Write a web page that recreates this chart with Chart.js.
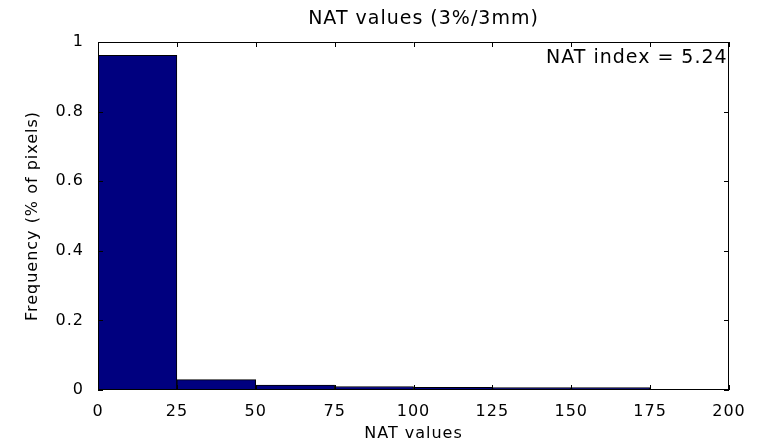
<!DOCTYPE html>
<html>
<head>
<meta charset="utf-8">
<script src="https://cdn.jsdelivr.net/npm/chart.js@4/dist/chart.umd.min.js"></script>
<style>
  html, body { margin: 0; padding: 0; background: #ffffff; }
  #wrap { width: 763px; height: 444px; }
</style>
</head>
<body>
<div id="wrap"><canvas id="hist" width="763" height="444"></canvas></div>
<script>
// Histogram of NAT values, 25-wide bins from 0 to 200
const binCenters = [12.5, 37.5, 62.5, 87.5, 112.5, 137.5, 162.5, 187.5];
const frequency  = [0.962, 0.030, 0.014, 0.010, 0.008, 0.007, 0.007, 0.002];
const xTicks = [0, 25, 50, 75, 100, 125, 150, 175, 200];
const yTicks = [0, 0.2, 0.4, 0.6, 0.8, 1];
const chartTitle = 'NAT values (3%/3mm)';
const xTitle = 'NAT values';
const yTitle = 'Frequency (% of pixels)';
const natIndexText = 'NAT index = 5.24';

const FONT = 'DejaVu Sans';
const SPACING = '1px';

// Slightly wider text tracking for every label drawn on the canvas
const trackingPlugin = {
  id: 'tracking',
  beforeUpdate(chart) { chart.ctx.letterSpacing = SPACING; },
  beforeDraw(chart) { chart.ctx.letterSpacing = SPACING; }
};

// Boxed axes with inward tick marks on all four sides, the title over the
// plot area and the index note
const boxPlugin = {
  id: 'box',
  afterDatasetsDraw(chart) {
    const { ctx, chartArea: a, scales: { x, y } } = chart;
    const tick = 5;
    ctx.save();
    ctx.strokeStyle = '#000000';
    ctx.lineWidth = 1;
    ctx.beginPath();
    ctx.rect(a.left + 0.5, a.top + 0.5, a.right - a.left - 1, a.bottom - a.top - 1);
    xTicks.forEach(v => {
      const px = Math.round(x.getPixelForValue(v)) + 0.5;
      ctx.moveTo(px, a.bottom); ctx.lineTo(px, a.bottom - tick);
      ctx.moveTo(px, a.top); ctx.lineTo(px, a.top + tick);
    });
    yTicks.forEach(v => {
      const py = Math.round(y.getPixelForValue(v)) + 0.5;
      ctx.moveTo(a.left, py); ctx.lineTo(a.left + tick, py);
      ctx.moveTo(a.right, py); ctx.lineTo(a.right - tick, py);
    });
    ctx.stroke();

    ctx.letterSpacing = SPACING;
    ctx.fillStyle = '#000000';
    ctx.textBaseline = 'middle';

    ctx.font = '19px "' + FONT + '"';
    ctx.textAlign = 'center';
    ctx.fillText(chartTitle, (a.left + a.right) / 2 + 10, 19);

    ctx.textAlign = 'left';
    ctx.fillText(natIndexText, x.getPixelForValue(142), y.getPixelForValue(0.955));
    ctx.restore();
  }
};

new Chart(document.getElementById('hist'), {
  type: 'bar',
  data: {
    datasets: [{
      data: binCenters.map((c, i) => ({ x: c, y: frequency[i] })),
      backgroundColor: '#00007f',
      borderColor: '#000000',
      borderWidth: 1,
      borderSkipped: false,
      barPercentage: 1,
      categoryPercentage: 1
    }]
  },
  options: {
    responsive: false,
    animation: false,
    devicePixelRatio: 1,
    layout: { padding: { left: 0, right: 34, top: 42, bottom: 0 } },
    plugins: {
      legend: { display: false },
      tooltip: { enabled: false },
      title: { display: false }
    },
    scales: {
      x: {
        type: 'linear',
        offset: false,
        min: 0,
        max: 200,
        afterBuildTicks(scale) { scale.ticks = xTicks.map(v => ({ value: v })); },
        afterFit(scale) { scale.height = 54; },
        grid: { display: false, offset: false },
        border: { display: false },
        ticks: {
          color: '#000000',
          padding: 4,
          maxRotation: 0,
          autoSkip: false,
          font: { family: FONT, size: 16 }
        },
        title: {
          display: true,
          text: xTitle,
          color: '#000000',
          font: { family: FONT, size: 16 },
          padding: { top: 0, bottom: 1 }
        }
      },
      y: {
        type: 'linear',
        min: 0,
        max: 1,
        afterBuildTicks(scale) { scale.ticks = yTicks.map(v => ({ value: v })); },
        afterFit(scale) { scale.width = 98; },
        grid: { display: false },
        border: { display: false },
        ticks: {
          color: '#000000',
          padding: 6,
          autoSkip: false,
          font: { family: FONT, size: 16 },
          callback: v => String(v)
        },
        title: {
          display: true,
          text: yTitle,
          color: '#000000',
          font: { family: FONT, size: 16 },
          padding: { top: 23, bottom: 0 }
        }
      }
    }
  },
  plugins: [trackingPlugin, boxPlugin]
});
</script>
</body>
</html>
